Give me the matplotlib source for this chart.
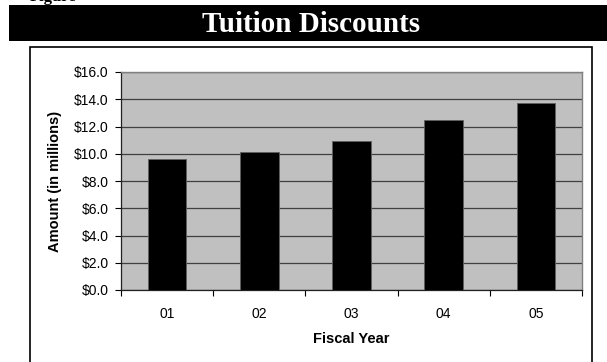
import matplotlib.pyplot as plt
from matplotlib.patches import Rectangle
from matplotlib.ticker import FuncFormatter

# Tuition discounts by fiscal year, in millions of dollars
years = ['01', '02', '03', '04', '05']
discounts = [9.63, 10.15, 10.93, 12.45, 13.75]
y_ticks = [0, 2, 4, 6, 8, 10, 12, 14, 16]

W, H = 607, 362
fig = plt.figure(figsize=(W / 100, H / 100), dpi=100)


def px(x0, y0, x1, y1):
    # pixel box (top-left origin) -> figure fraction rect
    return [x0 / W, 1 - y1 / H, (x1 - x0) / W, (y1 - y0) / H]


# title banner
fig.patches.append(Rectangle((9 / W, 1 - 41 / H), (W - 9) / W, 36 / H,
                             transform=fig.transFigure, facecolor='black',
                             edgecolor='none', zorder=0))
fig.text(311 / W, 1 - 24 / H, 'Tuition Discounts', color='white',
         family='Liberation Serif', fontweight='bold', fontsize=21,
         ha='center', va='center')

# cut-off caption line above the banner
fig.text(30 / W, 1 - 1 / H, 'Figure', family='Liberation Serif',
         fontweight='bold', fontsize=12, ha='left', va='baseline')

# chart frame
fig.patches.append(Rectangle((30 / W, -0.05), (592 - 30) / W, 1.05 - 47 / H,
                             transform=fig.transFigure, facecolor='none',
                             edgecolor='black', linewidth=1.2, zorder=0))

ax = fig.add_axes(px(121, 72, 582, 290))
ax.set_facecolor('#c0c0c0')

x = range(len(years))
ax.bar(x, discounts, width=0.42, color='black', edgecolor='#606060',
       linewidth=0.6, zorder=3)

ax.set_xlim(-0.5, len(years) - 0.5)
ax.set_ylim(0, 16)
ax.set_yticks(y_ticks)
ax.yaxis.set_major_formatter(FuncFormatter(lambda v, p: f'${v:.1f}'))
ax.yaxis.grid(True, color='#404040', linewidth=0.9, zorder=1)
ax.set_axisbelow(True)

# ticks between categories, labels centred under the bars
ax.set_xticks([i - 0.5 for i in range(len(years) + 1)])
ax.set_xticklabels([])
ax.set_xticks(list(x), minor=True)
ax.set_xticklabels(years, minor=True)
ax.tick_params(axis='x', which='minor', length=0, pad=12)
ax.tick_params(axis='x', which='major', length=4, width=0.8, direction='out')
ax.tick_params(axis='y', length=4, width=0.8, direction='out', pad=5)

for lab in ax.get_xticklabels(minor=True) + ax.get_yticklabels():
    lab.set_family('Liberation Sans')
    lab.set_fontsize(10)

for side in ['top', 'right']:
    ax.spines[side].set_color('#808080')
    ax.spines[side].set_linewidth(1.0)
for side in ['left', 'bottom']:
    ax.spines[side].set_color('#202020')
    ax.spines[side].set_linewidth(0.9)

ax.set_xlabel('Fiscal Year', family='Liberation Sans', fontweight='bold',
              fontsize=10.5, va='center')
ax.xaxis.set_label_coords(0.5, (290 - 339) / 218)
ax.set_ylabel('Amount (in millions)', family='Liberation Sans',
              fontweight='bold', fontsize=10.5, va='center')
ax.yaxis.set_label_coords((55 - 121) / 461, 0.5)

fig.savefig('out.png', dpi=100)
